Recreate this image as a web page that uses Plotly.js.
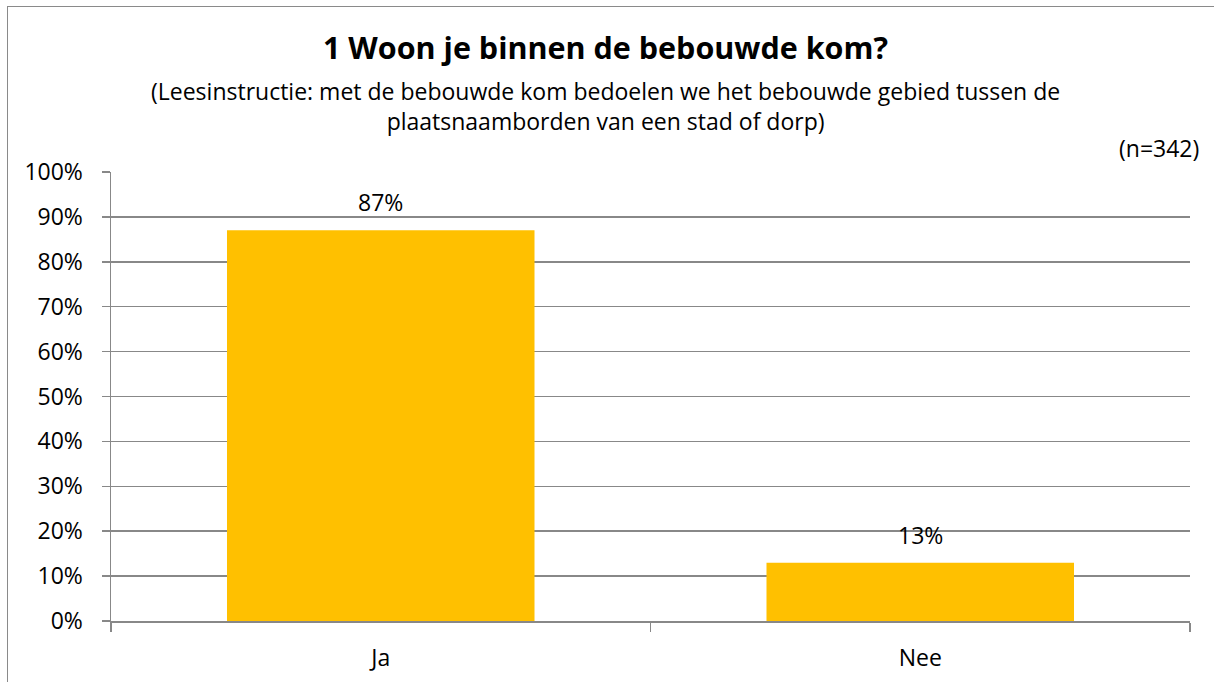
<!DOCTYPE html>
<html>
<head>
<meta charset="utf-8">
<script src="https://cdn.plot.ly/plotly-3.0.1.min.js"></script>
<style>
  html, body { margin: 0; padding: 0; overflow: hidden; background: #fff; }
  #chart { width: 1214px; height: 682px; }
  #frame { position: absolute; left: 7px; top: 6px; width: 1400px; height: 900px;
           border: 1.5px solid #8a8a8a; pointer-events: none; }
</style>
</head>
<body>
<div id="chart"></div>
<div id="frame"></div>
<script>
const categories = ["Ja", "Nee"];
const values = [0.87, 0.13];
const valueLabels = ["87%", "13%"];
const titleText = "1 Woon je binnen de bebouwde kom?";
const subtitleLines = [
  "(Leesinstructie: met de bebouwde kom bedoelen we het bebouwde gebied tussen de",
  "plaatsnaamborden van een stad of dorp)"
];
const sampleText = "(n=342)";

const FONT = "Open Sans, Lato, sans-serif";
const grey = "#888888";
const FS = 23;

const trace = {
  type: "bar",
  x: categories,
  y: values,
  marker: { color: "#FFC000", line: { width: 0 } },
  hoverinfo: "skip"
};

const annotations = [
  { text: "<b>" + titleText + "</b>", xref: "paper", yref: "paper",
    x: 0.458, y: 1, yshift: 125, xanchor: "center", yanchor: "middle",
    showarrow: false, font: { family: FONT, size: 30.5, color: "#000" } },
  { text: subtitleLines.join("<br>"), xref: "paper", yref: "paper",
    x: 0.458, y: 1, yshift: 66, xanchor: "center", yanchor: "middle",
    showarrow: false, font: { family: FONT, size: FS, color: "#000" } },
  { text: sampleText, xref: "paper", yref: "paper",
    x: 1, xshift: 11, y: 1, yshift: 24, xanchor: "right", yanchor: "middle",
    showarrow: false, font: { family: FONT, size: FS, color: "#000" } }
];
categories.forEach((c, i) => {
  annotations.push({
    text: valueLabels[i], x: c, y: values[i], xref: "x", yref: "y",
    xanchor: "center", yanchor: "bottom", yshift: 10, showarrow: false,
    font: { family: FONT, size: FS, color: "#000" }
  });
});

const layout = {
  width: 1214, height: 682,
  margin: { l: 111, r: 24, t: 172, b: 61, pad: 0 },
  paper_bgcolor: "#fff", plot_bgcolor: "#fff",
  showlegend: false,
  bargap: 0.43,
  font: { family: FONT, size: FS, color: "#000" },
  xaxis: {
    type: "category",
    showline: true, linecolor: grey, linewidth: 1.5,
    ticks: "outside", tickson: "boundaries", ticklen: 9, tickcolor: grey, tickwidth: 1.5,
    showgrid: false, zeroline: false,
    ticklabelstandoff: 16,
    tickfont: { family: FONT, size: FS, color: "#000" }
  },
  yaxis: {
    range: [0, 1], dtick: 0.1, tick0: 0, tickformat: ".0%",
    showline: true, linecolor: grey, linewidth: 1.5,
    ticks: "outside", ticklen: 8, tickcolor: grey, tickwidth: 1.5,
    showgrid: true, gridcolor: grey, gridwidth: 1.5,
    zeroline: false,
    ticklabelstandoff: 14,
    tickfont: { family: FONT, size: FS, color: "#000" }
  },
  annotations: annotations
};

Plotly.newPlot("chart", [trace], layout, { staticPlot: true, displayModeBar: false });
</script>
</body>
</html>
